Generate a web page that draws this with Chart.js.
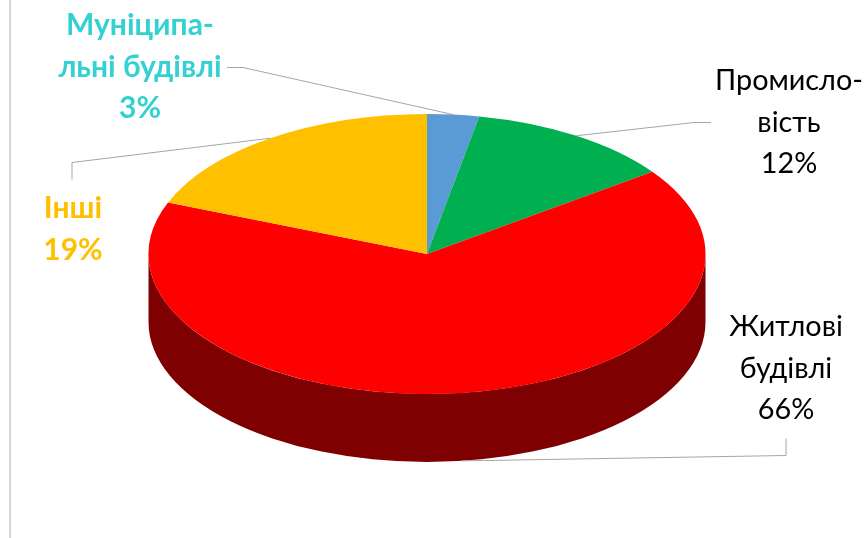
<!DOCTYPE html>
<html>
<head>
<meta charset="utf-8">
<title>Споживання</title>
<script src="https://cdn.jsdelivr.net/npm/chart.js@4"></script>
<style>
    html, body { margin: 0; padding: 0; background: #fff; overflow: hidden; }
    #wrap { position: relative; width: 868px; height: 538px; }
    #rule { position: absolute; left: 9px; top: 0; width: 2px; height: 538px; background: #d4d4d4; }
    canvas { position: absolute; left: 0; top: 0; }
</style>
</head>
<body>
<div id="wrap">
    <div id="rule"></div>
    <canvas id="pie" width="868" height="538"></canvas>
</div>
<script>
// Дані діаграми
const categories = ['Муніципальні будівлі', 'Промисловість', 'Житлові будівлі', 'Інші'];
const values = [3, 12, 66, 19];
const labelLines = [
    ['Муніципа-', 'льні будівлі'],
    ['Промисло-', 'вість'],
    ['Житлові', 'будівлі'],
    ['Інші']
];
const topColors = ['#5b9bd5', '#00b050', '#ff0000', '#ffc000'];
const sideColors = ['#2e4e6b', '#005828', '#7f0000', '#806000'];
const textColors = ['#33d1d1', '#000000', '#000000', '#ffc000'];
const textBold = [true, false, false, true];

// Геометрія псевдо-3D еліпса
const pieCx = 427, pieCy = 254, pieRx = 278.5, pieRy = 140, pieDepth = 68;
const fontFamily = 'Lato, "Noto Sans", sans-serif';
const fontSizeBold = 30;
const fontSizeNormal = 28.8;
const lineStep = 41.5;

// центр підпису і базова лінія першого рядка
const labelX = [140, 789, 786, 73];
const labelY = [35, 90, 336, 218];
// зламані виноски: точки від підпису до краю сектора
const leaderKnee = [[227, 67, 243, 67], [711, 122, 694, 122], [786, 438, 786, 455], [72, 179, 72, 162]];

function sliceEdge(arc, i) {
    // точка на зовнішньому краю сектора, посередині його дуги
    const mid = (arc.startAngle + arc.endAngle) / 2;
    const drop = Math.sin(mid) > 0.9 ? pieDepth : 0;
    return [pieCx + pieRx * Math.cos(mid), pieCy + pieRy * Math.sin(mid) + drop];
}

const pie3d = {
    id: 'pie3d',
    beforeDatasetDraw(chart, args) {
        const ctx = chart.ctx;
        const arcs = chart.getDatasetMeta(args.index).data;

        // бокова стінка, видно лише передню половину
        arcs.forEach((arc, i) => {
            const a0 = Math.max(arc.startAngle, 0);
            const a1 = Math.min(arc.endAngle, Math.PI);
            if (a1 <= a0) return;
            ctx.beginPath();
            ctx.ellipse(pieCx, pieCy, pieRx, pieRy, 0, a0, a1);
            ctx.ellipse(pieCx, pieCy + pieDepth, pieRx, pieRy, 0, a1, a0, true);
            ctx.closePath();
            ctx.fillStyle = sideColors[i];
            ctx.fill();
        });

        // верхня грань: круг Chart.js стискаємо в еліпс
        const first = arcs[0];
        ctx.save();
        ctx.translate(pieCx, pieCy);
        ctx.scale(pieRx / first.outerRadius, pieRy / first.outerRadius);
        ctx.translate(-first.x, -first.y);
    },
    afterDatasetDraw(chart) {
        chart.ctx.restore();
    },
    afterDraw(chart) {
        const ctx = chart.ctx;
        const arcs = chart.getDatasetMeta(0).data;

        // виноски
        ctx.strokeStyle = '#a6a6a6';
        ctx.lineWidth = 1;
        arcs.forEach((arc, i) => {
            const k = leaderKnee[i];
            const end = sliceEdge(arc, i);
            ctx.beginPath();
            ctx.moveTo(k[0], k[1] + 0.5);
            ctx.lineTo(k[2], k[3] + 0.5);
            ctx.lineTo(end[0], end[1]);
            ctx.stroke();
        });

        // підписи
        ctx.textAlign = 'center';
        ctx.textBaseline = 'alphabetic';
        values.forEach((v, i) => {
            const lines = labelLines[i].concat(v + '%');
            ctx.font = textBold[i] ? 'bold ' + fontSizeBold + 'px ' + fontFamily : fontSizeNormal + 'px ' + fontFamily;
            ctx.fillStyle = textColors[i];
            lines.forEach((line, n) => {
                ctx.fillText(line, labelX[i], labelY[i] + n * lineStep);
            });
        });
    }
};

new Chart(document.getElementById('pie').getContext('2d'), {
    type: 'pie',
    data: {
        labels: categories,
        datasets: [{
            data: values,
            backgroundColor: topColors,
            borderWidth: 0
        }]
    },
    options: {
        responsive: false,
        animation: false,
        plugins: {
            legend: { display: false },
            tooltip: { enabled: false }
        }
    },
    plugins: [pie3d]
});
</script>
</body>
</html>
